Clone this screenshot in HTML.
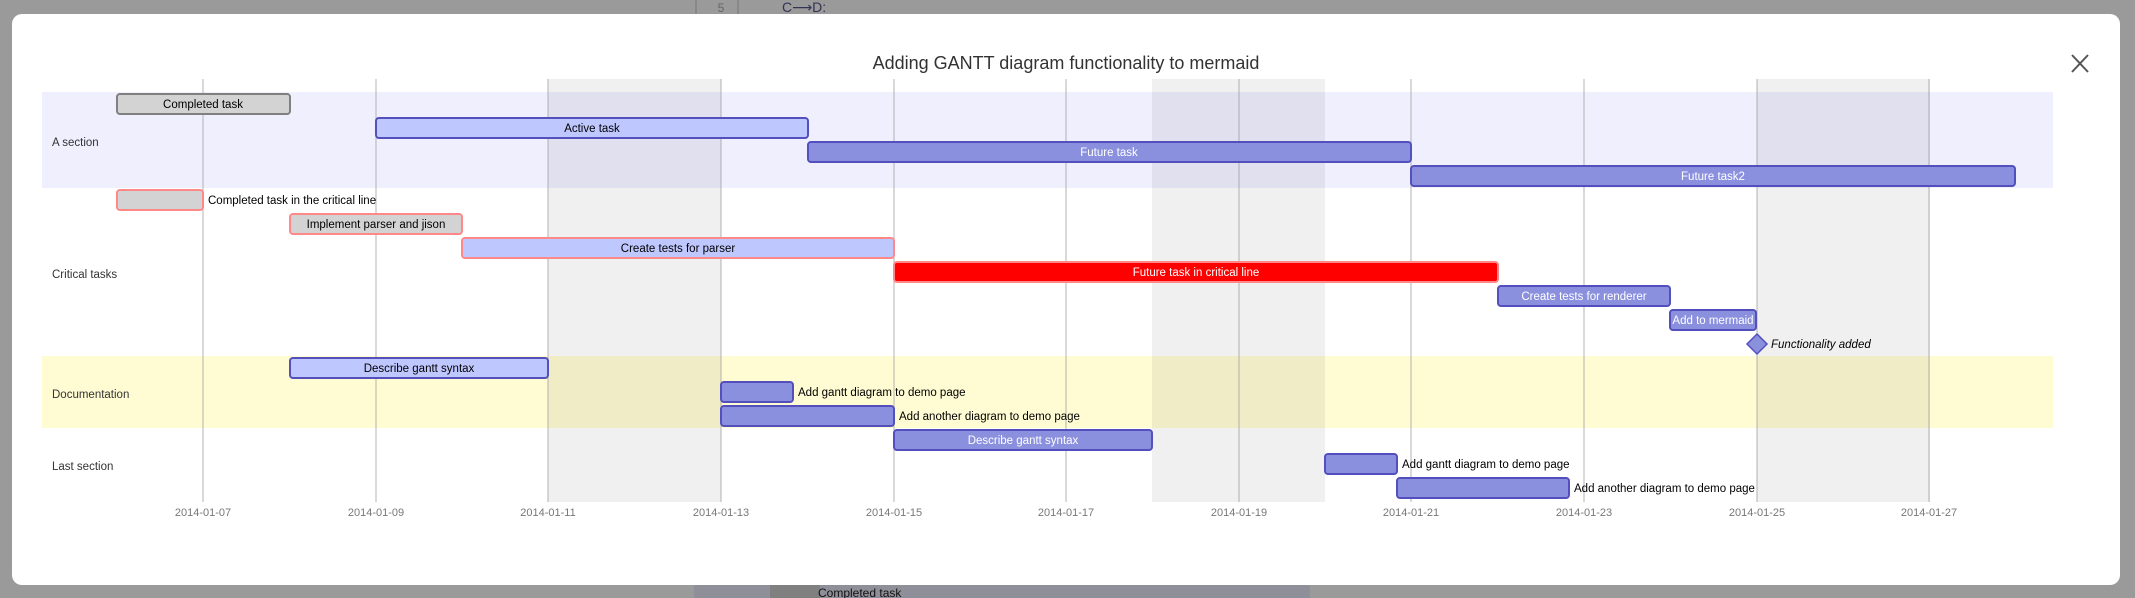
<!DOCTYPE html>
<html><head><meta charset="utf-8"><style>
html,body{margin:0;padding:0;background:#999;width:2135px;height:598px;overflow:hidden}
svg{display:block;font-family:"Liberation Sans","DejaVu Sans",sans-serif}
</style></head><body>
<svg width="2135" height="598" viewBox="0 0 2135 598">
<rect width="2135" height="598" fill="#9a9a9a"/>
<line x1="696" y1="0" x2="696" y2="14" stroke="#777"/>
<line x1="738" y1="0" x2="738" y2="14" stroke="#777"/>
<text x="721" y="12" font-size="12" fill="#666" text-anchor="middle">5</text>
<text x="782" y="12" font-size="14" fill="#335">C⟶D:</text>
<rect x="694" y="585" width="616" height="13" fill="#8f8f99"/>
<rect x="770" y="585" width="50" height="13" fill="#808080"/>
<text x="818" y="597" font-size="12" fill="#111">Completed task</text>
<rect x="12" y="14" width="2108" height="571" rx="10" fill="#fff"/>
<text x="1066" y="69" font-size="18" fill="#333" text-anchor="middle">Adding GANTT diagram functionality to mermaid</text>
<g stroke="#555" stroke-width="2"><line x1="2072" y1="55" x2="2088" y2="72"/><line x1="2088" y1="55" x2="2072" y2="72"/></g>
<rect x="42" y="92" width="2011" height="96" fill="#efeffe"/>
<rect x="42" y="356" width="2011" height="72" fill="#fffcd3"/>
<g fill="#000" fill-opacity="0.06">
<rect x="548" y="79" width="173" height="423"/>
<rect x="1152" y="79" width="173" height="423"/>
<rect x="1757" y="79" width="173" height="423"/>
</g>
<g stroke="#a0a0a0" stroke-width="0.8">
<line x1="203" y1="79" x2="203" y2="502"/><line x1="376" y1="79" x2="376" y2="502"/>
<line x1="548" y1="79" x2="548" y2="502"/><line x1="721" y1="79" x2="721" y2="502"/>
<line x1="894" y1="79" x2="894" y2="502"/><line x1="1066" y1="79" x2="1066" y2="502"/>
<line x1="1239" y1="79" x2="1239" y2="502"/><line x1="1411" y1="79" x2="1411" y2="502"/>
<line x1="1584" y1="79" x2="1584" y2="502"/><line x1="1757" y1="79" x2="1757" y2="502"/>
<line x1="1929" y1="79" x2="1929" y2="502"/>
</g>
<g font-size="11" fill="#777" text-anchor="middle">
<text x="203" y="516">2014-01-07</text><text x="376" y="516">2014-01-09</text>
<text x="548" y="516">2014-01-11</text><text x="721" y="516">2014-01-13</text>
<text x="894" y="516">2014-01-15</text><text x="1066" y="516">2014-01-17</text>
<text x="1239" y="516">2014-01-19</text><text x="1411" y="516">2014-01-21</text>
<text x="1584" y="516">2014-01-23</text><text x="1757" y="516">2014-01-25</text>
<text x="1929" y="516">2014-01-27</text>
</g>
<g font-size="11.5" fill="#333">
<text x="52" y="146">A section</text>
<text x="52" y="278">Critical tasks</text>
<text x="52" y="398">Documentation</text>
<text x="52" y="470">Last section</text>
</g>
<g stroke-width="2">
<rect x="117" y="94" width="173" height="20" rx="3" fill="#d3d3d3" stroke="#808080"/>
<rect x="376" y="118" width="432" height="20" rx="3" fill="#bfc7ff" stroke="#534fbc"/>
<rect x="808" y="142" width="603" height="20" rx="3" fill="#8a90dd" stroke="#534fbc"/>
<rect x="1411" y="166" width="604" height="20" rx="3" fill="#8a90dd" stroke="#534fbc"/>
<rect x="117" y="190" width="86" height="20" rx="3" fill="#d3d3d3" stroke="#ff8888"/>
<rect x="290" y="214" width="172" height="20" rx="3" fill="#d3d3d3" stroke="#ff8888"/>
<rect x="462" y="238" width="432" height="20" rx="3" fill="#bfc7ff" stroke="#ff8888"/>
<rect x="894" y="262" width="604" height="20" rx="3" fill="#ff0000" stroke="#ff8888"/>
<rect x="1498" y="286" width="172" height="20" rx="3" fill="#8a90dd" stroke="#534fbc"/>
<rect x="1670" y="310" width="86" height="20" rx="3" fill="#8a90dd" stroke="#534fbc"/>
<polygon points="1757,334 1767,344 1757,354 1747,344" fill="#8a90dd" stroke="#534fbc" stroke-width="1.5"/>
<rect x="290" y="358" width="258" height="20" rx="3" fill="#bfc7ff" stroke="#534fbc"/>
<rect x="721" y="382" width="72" height="20" rx="3" fill="#8a90dd" stroke="#534fbc"/>
<rect x="721" y="406" width="173" height="20" rx="3" fill="#8a90dd" stroke="#534fbc"/>
<rect x="894" y="430" width="258" height="20" rx="3" fill="#8a90dd" stroke="#534fbc"/>
<rect x="1325" y="454" width="72" height="20" rx="3" fill="#8a90dd" stroke="#534fbc"/>
<rect x="1397" y="478" width="172" height="20" rx="3" fill="#8a90dd" stroke="#534fbc"/>
</g>
<g font-size="11.5" fill="#000" text-anchor="middle">
<text x="203" y="108">Completed task</text>
<text x="592" y="132">Active task</text>
<text x="376" y="228">Implement parser and jison</text>
<text x="678" y="252">Create tests for parser</text>
<text x="419" y="372">Describe gantt syntax</text>
</g>
<g font-size="11.5" fill="#fff" text-anchor="middle">
<text x="1109" y="156">Future task</text>
<text x="1713" y="180">Future task2</text>
<text x="1196" y="276">Future task in critical line</text>
<text x="1584" y="300">Create tests for renderer</text>
<text x="1713" y="324">Add to mermaid</text>
<text x="1023" y="444">Describe gantt syntax</text>
</g>
<g font-size="11.5" fill="#000">
<text x="208" y="204">Completed task in the critical line</text>
<text x="1771" y="348" font-style="italic">Functionality added</text>
<text x="798" y="396">Add gantt diagram to demo page</text>
<text x="899" y="420">Add another diagram to demo page</text>
<text x="1402" y="468">Add gantt diagram to demo page</text>
<text x="1574" y="492">Add another diagram to demo page</text>
</g>
</svg>
</body></html>
